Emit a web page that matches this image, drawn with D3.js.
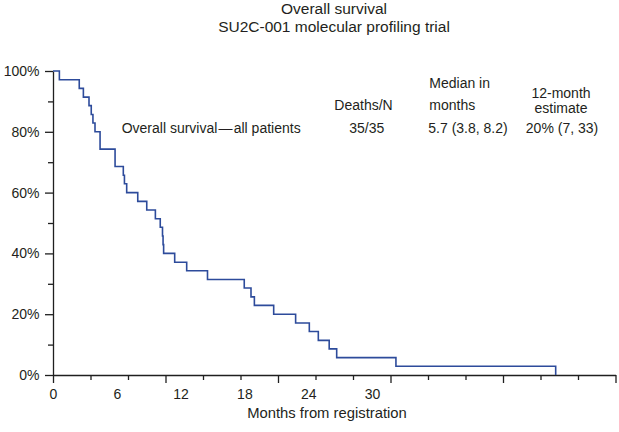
<!DOCTYPE html>
<html><head><meta charset="utf-8">
<script src="https://cdn.jsdelivr.net/npm/d3@7/dist/d3.min.js"></script>
<style>
body{margin:0;background:#fff}
svg{display:block}
text{font-family:"Liberation Sans",Arial,Helvetica,sans-serif;fill:#231f20}
</style>
</head><body>
<svg id="chart" width="619" height="432"></svg>
<script>
// ---- data ----
const titleLines = ["Overall survival", "SU2C-001 molecular profiling trial"];
const eventMonths = [0.34, 1.40, 1.62, 1.92, 2.04, 2.13, 2.24, 2.51, 3.31, 3.75, 3.81, 3.93,
  4.52, 5.00, 5.46, 5.72, 5.84, 5.87, 5.90, 6.49, 7.13, 8.24, 10.20, 10.56, 10.74,
  11.77, 12.94, 13.67, 14.15, 14.73, 15.13, 18.29, 26.81];
const survivalPct = [97.1, 94.3, 91.4, 88.6, 85.7, 82.9, 80.0, 74.3, 68.6, 65.7, 62.9, 60.0,
  57.1, 54.3, 51.4, 48.6, 45.7, 42.9, 40.0, 37.1, 34.3, 31.4, 28.6, 25.7, 22.9,
  20.0, 17.1, 14.3, 11.4, 8.6, 5.7, 2.9, 0];
const yTickValues = [0, 10, 20, 30, 40, 50, 60, 70, 80, 90, 100];
const yLabelValues = [0, 20, 40, 60, 80, 100];
const xTickMonths = [0, 2, 4, 6, 8, 10, 12, 14, 16, 18, 20, 22, 24, 26, 28, 30];
const xMajorMonths = [0, 6, 12, 18, 24, 30];
const xLabelMonths = [0, 6, 12, 18, 24, 30];
const xAxisTitle = "Months from registration";
const rowLabel = "Overall survival\u200a\u2014\u200aall patients";
const colDeaths = ["Deaths/N", "35/35"];
const colMedian = ["Median in", "months", "5.7 (3.8, 8.2)"];
const colEstimate = ["12-month", "estimate", "20% (7, 33)"];

// ---- layout ----
const svg = d3.select("#chart");
const x = d3.scaleLinear().domain([0, 30]).range([53, 615.5]);
const xLabel = d3.scaleLinear().domain([0, 30]).range([53, 372]);
const y = d3.scaleLinear().domain([0, 100]).range([375, 71]);
const ink = "#1f1f1f";

// title
svg.append("text").attr("x", 334).attr("y", 13.5).attr("text-anchor", "middle")
  .style("font-size", "15.5px").text(titleLines[0]);
svg.append("text").attr("x", 334).attr("y", 31.7).attr("text-anchor", "middle")
  .style("font-size", "15.5px").text(titleLines[1]);

// y axis
const yAxis = svg.append("g").attr("transform", "translate(53,0)")
  .call(d3.axisLeft(y).tickValues(yTickValues).tickSize(5).tickSizeOuter(0).tickPadding(8.5)
    .tickFormat(d => yLabelValues.includes(d) ? d + "%" : ""));
yAxis.selectAll(".tick line").attr("x2", d => yLabelValues.includes(d) ? -8 : -5);

// x axis (ticks)
const xAxis = svg.append("g").attr("transform", "translate(0,375)")
  .call(d3.axisBottom(x).tickValues(xTickMonths).tickSize(5).tickSizeOuter(0).tickFormat(""));
xAxis.selectAll(".tick line").attr("y2", d => xMajorMonths.includes(d) ? 8 : 5);

// x axis labels (as placed in the original figure)
const xLab = svg.append("g").attr("transform", "translate(0,375)")
  .call(d3.axisBottom(xLabel).tickValues(xLabelMonths).tickSize(0).tickPadding(14)
    .tickFormat(d => String(d)));
xLab.select(".domain").remove();

[yAxis, xAxis, xLab].forEach(g => {
  g.selectAll("path,line").attr("stroke", ink).attr("stroke-width", 1.3);
  g.selectAll("text").style("font-size", "14px").attr("fill", "#231f20")
    .style("font-family", "'Liberation Sans',Arial,Helvetica,sans-serif");
});

svg.append("text").attr("x", 327).attr("y", 418).attr("text-anchor", "middle")
  .style("font-size", "14.8px").text(xAxisTitle);

// KM step curve
const pts = [[0, 100]].concat(eventMonths.map((t, i) => [t, survivalPct[i]]));
svg.append("path").datum(pts)
  .attr("fill", "none").attr("stroke", "#2d4b9b").attr("stroke-width", 1.6)
  .attr("d", d3.line().x(d => x(d[0])).y(d => y(d[1])).curve(d3.curveStepAfter));

// table annotation
const fs = "14px";
svg.append("text").attr("x", 121.7).attr("y", 133.3).style("font-size", fs).text(rowLabel);
svg.append("text").attr("x", 363.5).attr("y", 110).attr("text-anchor", "middle").style("font-size", fs).text(colDeaths[0]);
svg.append("text").attr("x", 366.7).attr("y", 133.3).attr("text-anchor", "middle").style("font-size", fs).text(colDeaths[1]);
svg.append("text").attr("x", 429.3).attr("y", 88.3).style("font-size", fs).text(colMedian[0]);
svg.append("text").attr("x", 429.3).attr("y", 110).style("font-size", fs).text(colMedian[1]);
svg.append("text").attr("x", 428.3).attr("y", 133.3).style("font-size", fs).text(colMedian[2]);
svg.append("text").attr("x", 561).attr("y", 97.8).attr("text-anchor", "middle").style("font-size", fs).text(colEstimate[0]);
svg.append("text").attr("x", 561).attr("y", 112.5).attr("text-anchor", "middle").style("font-size", fs).text(colEstimate[1]);
svg.append("text").attr("x", 562).attr("y", 133.3).attr("text-anchor", "middle").style("font-size", fs).text(colEstimate[2]);
</script>
</body></html>
